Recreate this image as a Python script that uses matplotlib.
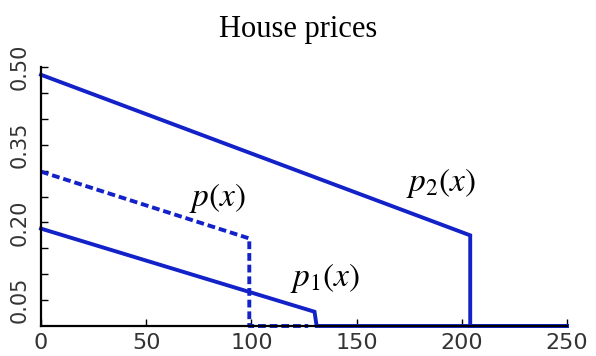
import numpy as np
import matplotlib
matplotlib.use('Agg')
import matplotlib.pyplot as plt

plt.rcParams['mathtext.fontset'] = 'stix'

# piecewise price curves
x_p2 = [0, 204, 204, 250]
y_p2 = [0.485, 0.175, 0.0, 0.0]

x_p = [0, 99, 99, 127]
y_p = [0.298, 0.169, 0.0, 0.0]

x_p1 = [0, 130, 131, 250]
y_p1 = [0.188, 0.0275, 0.0, 0.0]

x_ticks = [0, 50, 100, 150, 200, 250]
y_ticks = [0.05, 0.20, 0.35, 0.50]
y_minor = [0.10, 0.15, 0.25, 0.30, 0.40, 0.45]

blue = '#1222c8'

fig = plt.figure(figsize=(5.96, 3.56), dpi=100)
ax = fig.add_axes([41 / 596, 30 / 356, (567 - 41) / 596, (326 - 67) / 356])

ax.plot(x_p2, y_p2, color=blue, lw=2.8, clip_on=False, solid_joinstyle='miter')
ax.plot(x_p, y_p, color=blue, lw=2.8, ls=(0, (2, 1)), clip_on=False)
ax.plot(x_p1, y_p1, color=blue, lw=2.8, clip_on=False, solid_joinstyle='miter')

ax.set_xlim(0, 250)
ax.set_ylim(0, 0.5)

for s in ['top', 'right']:
    ax.spines[s].set_visible(False)
for s in ['left', 'bottom']:
    ax.spines[s].set_linewidth(1.6)

ax.set_xticks(x_ticks)
ax.set_xticklabels([str(t) for t in x_ticks])
ax.set_yticks(y_ticks)
ax.set_yticklabels(['%.2f' % t for t in y_ticks], rotation=90, va='center')
ax.set_yticks(y_minor, minor=True)

ax.tick_params(axis='x', direction='in', length=5, width=1, pad=5,
               labelsize=16, labelcolor='#333333')
ax.tick_params(axis='y', which='both', direction='in', length=5, width=1, pad=8,
               labelsize=15, labelcolor='#333333')

ax.text(84, 0.247, r'$p(x)$', fontsize=24, ha='center', va='center')
ax.text(135, 0.093, r'$p_1(x)$', fontsize=24, ha='center', va='center')
ax.text(190, 0.276, r'$p_2(x)$', fontsize=24, ha='center', va='center')

fig.text(0.5, (356 - 37.3) / 356, 'House prices', ha='center', va='baseline',
         fontsize=22, family='Liberation Serif')

fig.savefig('out.png', dpi=100)
